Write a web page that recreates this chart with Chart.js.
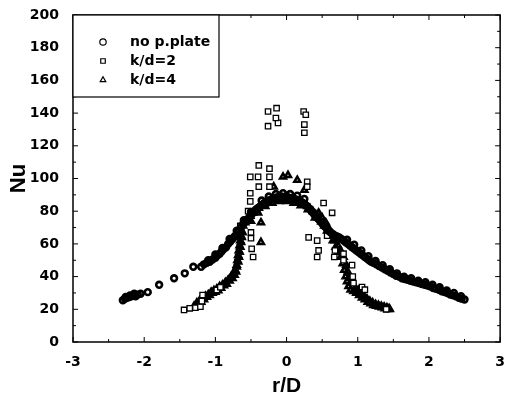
<!DOCTYPE html>
<html>
<head>
<meta charset="utf-8">
<script src="https://cdn.jsdelivr.net/npm/chart.js@4/dist/chart.umd.min.js"></script>
<style>
    html, body { margin: 0; padding: 0; background: #fff; }
    #wrap { width: 509px; height: 397px; }
</style>
</head>
<body>
<div id="wrap"><canvas id="nuChart"></canvas></div>
<script>
// Nu vs r/D, three plate configurations

const seriesNames = ['no p.plate', 'k/d=2', 'k/d=4'];
const xTicks = [-3, -2, -1, 0, 1, 2, 3];
const yTicks = [0, 20, 40, 60, 80, 100, 120, 140, 160, 180, 200];

// [r/D, Nu]
const noPlate = [
    [-2.30, 25.5], [-2.27, 26.5], [-2.24, 27], [-2.21, 27.5], [-2.18, 28], [-2.15, 28.5], [-2.12, 28], [-2.09, 29], [-2.05, 29.5],
    [-2.26, 27.5], [-2.20, 28.5], [-2.14, 29.5],
    [-1.95, 30.5], [-1.79, 35], [-1.58, 39], [-1.43, 42], [-1.31, 46],
    [-1.20, 46], [-1.16, 47.5], [-1.12, 48.5], [-1.08, 49], [-1.04, 50.5], [-1.00, 51.5], [-0.97, 53], [-0.94, 54],
    [-0.91, 55.5], [-0.88, 57], [-0.85, 58], [-0.82, 60], [-0.79, 61.5], [-0.76, 63], [-0.73, 64.5], [-0.70, 66],
    [-0.67, 68], [-0.64, 70], [-0.61, 72], [-0.58, 73.5], [-0.55, 75], [-0.52, 76.5], [-0.49, 78], [-0.46, 79.5],
    [-0.43, 81], [-0.40, 82], [-0.37, 83], [-0.34, 84], [-0.31, 85], [-0.28, 86], [-0.25, 86.5], [-0.22, 87],
    [-0.19, 87.5], [-0.16, 88], [-0.13, 88.5], [-0.10, 88], [-0.07, 89], [-0.04, 88.5], [-0.01, 89], [0.02, 88.5],
    [0.05, 88], [0.08, 88], [0.11, 87.5], [0.14, 87], [0.17, 86.5], [0.20, 86], [0.23, 85], [0.26, 84],
    [0.29, 83], [0.32, 81.5], [0.35, 80], [0.38, 78.5], [0.41, 77], [0.44, 75.5], [0.47, 74], [0.50, 72.5],
    [0.53, 71], [0.56, 69.5], [0.59, 68], [0.62, 67], [0.65, 66], [0.68, 65], [0.71, 64.5], [0.74, 64],
    [0.77, 63], [0.80, 62], [0.83, 61], [0.86, 60], [0.89, 59], [0.92, 58], [0.95, 57], [0.98, 56],
    [1.01, 55], [1.04, 54], [1.07, 53], [1.10, 52], [1.13, 51], [1.16, 50], [1.19, 49], [1.22, 48.5],
    [1.26, 47.5], [1.30, 46.5], [1.34, 45.5], [1.38, 44.5], [1.42, 43.5], [1.46, 42.5], [1.50, 41.5], [1.54, 40.5],
    [1.58, 40], [1.62, 39], [1.66, 38.5], [1.70, 38], [1.74, 37.5], [1.78, 37], [1.82, 36.5], [1.86, 36],
    [1.90, 35.5], [1.94, 35], [1.98, 34.5], [2.02, 34], [2.06, 33], [2.10, 32.5], [2.14, 32], [2.18, 31],
    [2.22, 30.5], [2.26, 30], [2.30, 29], [2.34, 28.5], [2.38, 28], [2.42, 27], [2.46, 26.5], [2.50, 26],
    [-0.35, 86.5], [-0.25, 89], [-0.15, 90.5], [-0.05, 91], [0.05, 90.5], [0.15, 89.5], [0.25, 87.5],
    [-1.10, 50], [-1.00, 53.5], [-0.90, 57.5], [-0.80, 63], [-0.70, 68], [-0.60, 74.5], [-0.50, 79.5],
    [0.85, 62.5], [0.95, 59.5], [1.05, 56], [1.15, 52.5], [1.25, 49.5], [1.35, 47], [1.45, 44.5],
    [1.55, 42], [1.65, 40], [1.75, 39], [1.85, 37.5], [1.95, 36.5], [2.05, 35], [2.15, 33.5],
    [2.25, 31.5], [2.35, 30], [2.45, 28]
];

const kd2 = [
    [-1.44, 19.6], [-1.36, 20.6], [-1.28, 21], [-1.21, 21.6], [-1.19, 25], [-1.18, 28.7], [-0.98, 31.8], [-0.93, 33.5],
    [-0.65, 71], [-0.50, 67], [-0.50, 63.5], [-0.49, 57], [-0.47, 52], [-0.54, 80], [-0.51, 86], [-0.51, 91],
    [-0.51, 101], [-0.40, 101], [-0.39, 108], [-0.24, 106], [-0.24, 101], [-0.24, 95], [-0.39, 95],
    [-0.26, 141], [-0.14, 143], [-0.26, 132], [-0.12, 134], [-0.15, 137],
    [0.24, 141], [0.27, 139], [0.25, 133], [0.25, 128],
    [0.29, 98], [0.29, 95], [0.52, 85], [0.64, 79], [0.31, 64], [0.43, 62], [0.43, 52], [0.45, 56],
    [0.57, 65], [0.68, 56], [0.67, 52], [0.80, 54], [0.80, 50], [0.92, 47], [0.93, 40], [0.94, 36],
    [1.06, 33.6], [1.10, 32], [1.40, 20]
];

const kd4 = [
    [-1.30, 22], [-1.26, 24], [-1.22, 25.5], [-1.18, 27], [-1.14, 28], [-1.10, 29], [-1.06, 30.5], [-1.02, 31.5],
    [-0.98, 32.5], [-0.94, 34], [-0.90, 35], [-0.86, 36.5], [-0.82, 38], [-0.78, 40], [-0.75, 42], [-0.72, 44],
    [-0.70, 47], [-0.69, 50], [-0.68, 53], [-0.67, 56], [-0.66, 59], [-0.65, 62], [-0.64, 65], [-0.63, 68],
    [-0.61, 71], [-0.58, 73], [-0.55, 75], [-0.51, 77], [-0.47, 79], [-0.43, 80.5], [-0.39, 82], [-0.35, 83.5],
    [-0.31, 84.5], [-0.27, 85.5], [-0.23, 86], [-0.19, 86.5], [-0.15, 87], [-0.11, 87.5], [-0.07, 87], [-0.03, 88],
    [0.01, 87.5], [0.05, 87], [0.09, 86.5], [0.13, 86], [0.17, 85.5], [0.21, 85], [0.25, 84], [0.29, 83],
    [0.33, 81.5], [0.37, 80], [0.41, 78], [0.45, 76], [0.49, 73.5], [0.53, 71], [0.57, 68], [0.61, 65],
    [0.65, 62], [0.69, 58], [0.73, 55], [0.76, 52], [0.79, 48], [0.81, 44], [0.83, 40], [0.85, 37],
    [0.87, 34], [0.90, 32], [0.94, 31], [0.98, 30], [1.02, 28.5], [1.06, 27], [1.10, 26], [1.14, 24.5],
    [1.18, 23.5], [1.22, 22.5], [1.26, 22], [1.30, 21.5], [1.34, 21], [1.38, 20.5], [1.42, 20], [1.45, 20],
    [0.45, 79], [0.50, 76], [0.55, 73], [0.60, 69], [0.64, 66], [0.68, 62], [0.72, 59], [0.76, 56],
    [0.80, 52], [0.84, 47], [0.86, 43], [0.88, 39], [0.90, 36], [0.93, 34], [0.97, 33], [1.01, 31.5],
    [1.05, 30], [1.09, 28], [1.13, 26.5], [1.17, 25], [1.21, 24], [1.25, 23], [1.29, 22.5], [1.33, 22],
    [1.37, 21.5], [1.41, 21], [1.44, 20.5],
    [-1.24, 23], [-1.20, 24.5], [-1.16, 26], [-1.12, 27.5], [-1.08, 28.5], [-1.04, 30], [-1.00, 30.5], [-0.96, 31.5],
    [-0.92, 33], [-0.88, 34.5], [-0.84, 35.5], [-0.80, 37.5], [-0.76, 39], [-0.73, 41], [-0.71, 43], [-0.70, 46],
    [-0.68, 49], [-0.67, 52], [-0.66, 55], [-0.65, 58], [-0.64, 61], [-0.63, 64], [-0.62, 67],
    [-0.50, 74], [-0.40, 79], [-0.30, 83], [-0.20, 85], [-0.10, 86], [0.00, 86], [0.10, 85], [0.20, 83.5],
    [0.30, 81], [0.40, 76],
    [-0.36, 73], [-0.36, 61], [-0.05, 101], [0.02, 102], [0.15, 99], [-0.18, 95], [0.25, 93]
];

const toPoints = arr => arr.map(p => ({x: p[0], y: p[1]}));
const FONT = '"DejaVu Sans", "Liberation Sans", Arial, sans-serif';

// box with inward ticks on all four sides, plus the legend inside the plot
const framePlugin = {
    id: 'frame',
    afterDatasetsDraw(chart) {
        const {ctx, chartArea: a, scales} = chart;
        const xs = scales.x, ys = scales.y;
        ctx.save();
        ctx.strokeStyle = '#000';
        ctx.lineWidth = 1.5;
        ctx.strokeRect(a.left, a.top, a.right - a.left, a.bottom - a.top);

        ctx.lineWidth = 1;
        ctx.beginPath();
        for (let v = -3; v <= 3.001; v += 0.5) {
            const px = xs.getPixelForValue(v);
            const len = Math.abs(v % 1) < 0.01 ? 5 : 3;
            ctx.moveTo(px, a.bottom); ctx.lineTo(px, a.bottom - len);
            ctx.moveTo(px, a.top); ctx.lineTo(px, a.top + len);
        }
        for (let v = 0; v <= 200; v += 10) {
            const py = ys.getPixelForValue(v);
            const len = v % 20 === 0 ? 5 : 3;
            ctx.moveTo(a.left, py); ctx.lineTo(a.left + len, py);
            ctx.moveTo(a.right, py); ctx.lineTo(a.right - len, py);
        }
        ctx.stroke();

        // legend box
        const lx = a.left, ly = a.top;
        ctx.lineWidth = 1.2;
        ctx.fillStyle = '#fff';
        ctx.fillRect(lx, ly, 146, 82);
        ctx.strokeRect(lx, ly, 146, 82);
        ctx.font = 'bold 14px ' + FONT;
        ctx.textBaseline = 'middle';
        chart.data.datasets.forEach((ds, i) => {
            const yy = ly + 27 + i * 19;
            ctx.fillStyle = '#fff';
            ctx.strokeStyle = '#000';
            ctx.lineWidth = 1.2;
            Chart.helpers.drawPoint(ctx, {
                pointStyle: ds.pointStyle,
                radius: 3.2,
                borderWidth: 1.2,
                rotation: 0
            }, lx + 30, yy);
            ctx.fillStyle = '#000';
            ctx.fillText(ds.label, lx + 57, yy);
        });
        ctx.restore();
    }
};

new Chart(document.getElementById('nuChart'), {
    type: 'scatter',
    data: {
        datasets: [{
            label: seriesNames[0],
            data: toPoints(noPlate),
            pointStyle: 'circle',
            pointRadius: 2.9,
            borderWidth: 2.6,
            borderColor: '#000',
            backgroundColor: 'rgba(255,255,255,0)'
        }, {
            label: seriesNames[1],
            data: toPoints(kd2),
            pointStyle: 'rect',
            pointRadius: 3.8,
            borderWidth: 1.3,
            borderColor: '#000',
            backgroundColor: '#fff'
        }, {
            label: seriesNames[2],
            data: toPoints(kd4),
            pointStyle: 'triangle',
            pointRadius: 3.4,
            borderWidth: 2.5,
            borderColor: '#000',
            backgroundColor: 'rgba(255,255,255,0)'
        }]
    },
    options: {
        responsive: true,
        maintainAspectRatio: false,
        animation: false,
        layout: {
            padding: {top: 15, right: 4, left: 0, bottom: 0}
        },
        plugins: {
            legend: {display: false},
            tooltip: {enabled: false}
        },
        scales: {
            x: {
                type: 'linear',
                min: -3,
                max: 3,
                afterBuildTicks: scale => { scale.ticks = xTicks.map(v => ({value: v})); },
                afterFit: scale => { scale.height = 55; },
                grid: {display: false},
                border: {display: false},
                ticks: {
                    color: '#000',
                    padding: 4,
                    font: {family: FONT, size: 14, weight: 'bold'}
                },
                title: {
                    display: true,
                    text: 'r/D',
                    color: '#000',
                    padding: {top: 0, bottom: 0},
                    font: {family: '"Liberation Sans", Arial, sans-serif', size: 21, weight: 'bold', lineHeight: 1}
                }
            },
            y: {
                type: 'linear',
                min: 0,
                max: 200,
                afterBuildTicks: scale => { scale.ticks = yTicks.map(v => ({value: v})); },
                afterFit: scale => { scale.width = 73; },
                grid: {display: false},
                border: {display: false},
                ticks: {
                    color: '#000',
                    padding: 6,
                    font: {family: FONT, size: 14, weight: 'bold'}
                },
                title: {
                    display: true,
                    text: 'Nu',
                    color: '#000',
                    padding: {top: 6, bottom: 0},
                    font: {family: '"Liberation Sans", Arial, sans-serif', size: 22, weight: 'bold'}
                }
            }
        }
    },
    plugins: [framePlugin]
});
</script>
</body>
</html>
